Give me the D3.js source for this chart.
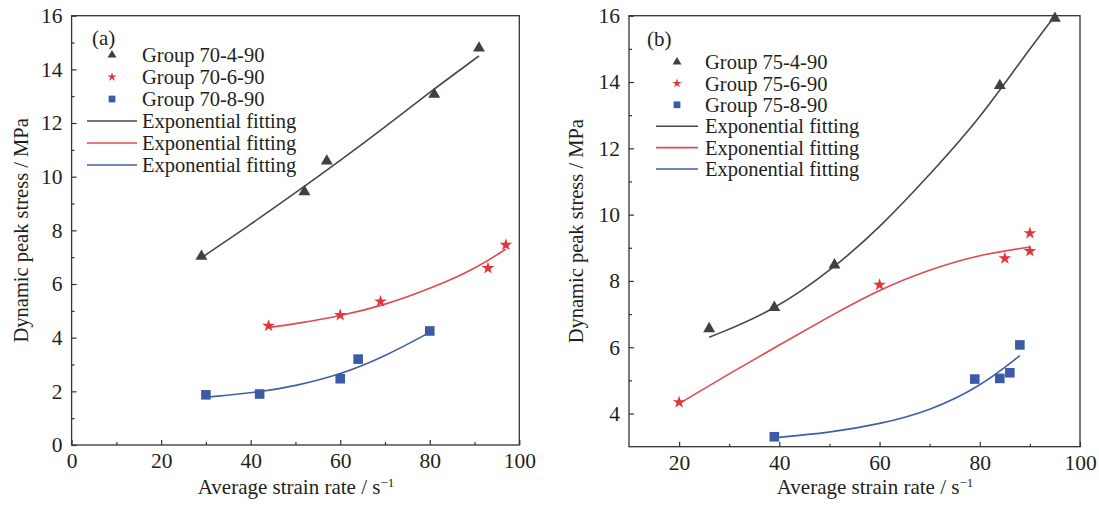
<!DOCTYPE html>
<html>
<head>
<meta charset="utf-8">
<script src="https://cdn.jsdelivr.net/npm/d3@7/dist/d3.min.js"></script>
<style>
  body { margin: 0; background: #fff; }
  svg text { font-family: "Liberation Serif", "Times New Roman", serif; fill: #231f20; }
</style>
</head>
<body>
<div id="chart"></div>
<script>
// ---- panel (a) data ----
const aLegend = ['Group 70-4-90', 'Group 70-6-90', 'Group 70-8-90'];
const a4x = [29, 52, 57, 81, 91];
const a4y = [7.03, 9.44, 10.58, 13.07, 14.79];
const a6x = [44, 60, 69, 93, 97];
const a6y = [4.44, 4.84, 5.35, 6.59, 7.46];
const a8x = [30, 42, 60, 64, 80];
const a8y = [1.87, 1.9, 2.47, 3.2, 4.25];
// fitted curves
const a4FitX = [29, 40, 50, 60, 70, 80, 91];
const a4FitY = [6.98, 8.22, 9.4, 10.6, 11.85, 13.15, 14.5];
const a6FitX = [44, 50, 60, 70, 80, 90, 97];
const a6FitY = [4.38, 4.52, 4.8, 5.22, 5.82, 6.55, 7.3];
const a8FitX = [30, 42, 50, 60, 70, 80];
const a8FitY = [1.78, 1.97, 2.2, 2.62, 3.3, 4.2];

// ---- panel (b) data ----
const bLegend = ['Group 75-4-90', 'Group 75-6-90', 'Group 75-8-90'];
const b4x = [26, 39, 51, 84, 95];
const b4y = [6.56, 7.2, 8.48, 13.89, 15.92];
const b6x = [20, 60, 85, 90, 90];
const b6y = [4.34, 7.88, 8.68, 8.9, 9.44];
const b8x = [39, 79, 84, 86, 88];
const b8y = [3.3, 5.04, 5.06, 5.23, 6.07];
const b4FitX = [26, 39, 51, 60, 70, 80, 88, 95];
const b4FitY = [6.3, 7.1, 8.4, 9.6, 11.2, 12.9, 14.6, 16.0];
const b6FitX = [20, 30, 40, 50, 60, 70, 80, 90];
const b6FitY = [4.3, 5.2, 6.07, 6.93, 7.75, 8.35, 8.8, 9.02];
const b8FitX = [39, 50, 60, 70, 80, 88];
const b8FitY = [3.27, 3.42, 3.68, 4.08, 4.8, 5.75];

const fitLabel = 'Exponential fitting';
const colors = ['#433f3e', '#e2353c', '#3b5ba6'];
const fitColors = ['#4b4646', '#e04a4f', '#3f60aa'];

const svg = d3.select('#chart').append('svg')
  .attr('width', 1099)
  .attr('height', 507);

const zip = (xs, ys) => xs.map((x, i) => [x, ys[i]]);

function drawPanel(cfg) {
  const { left, top, width, height } = cfg;
  const g = svg.append('g').attr('transform', `translate(${left},${top})`);

  const x = d3.scaleLinear().domain(cfg.xDomain).range([0, width]);
  const y = d3.scaleLinear().domain(cfg.yDomain).range([height, 0]);

  // major + minor ticks, pointing inward
  g.append('g').attr('transform', `translate(0,${height})`)
    .call(d3.axisBottom(x).tickValues(cfg.xTicks).tickSize(-5).tickPadding(8).tickFormat(d3.format('d')));
  g.append('g').attr('transform', `translate(0,${height})`)
    .call(d3.axisBottom(x).tickValues(cfg.xMinor).tickSize(-3).tickFormat(''));
  g.append('g')
    .call(d3.axisLeft(y).tickValues(cfg.yTicks).tickSize(-5).tickPadding(9).tickFormat(d3.format('d')));
  g.append('g')
    .call(d3.axisLeft(y).tickValues(cfg.yMinor).tickSize(-3).tickFormat(''));

  g.selectAll('.domain').remove();
  g.selectAll('.tick line').attr('stroke', '#333').attr('stroke-width', 1.2);
  g.selectAll('.tick text').attr('font-size', 21.5).style('font-family', '"Liberation Serif", serif').attr('fill', '#231f20');

  g.append('rect')
    .attr('width', width).attr('height', height)
    .attr('fill', 'none').attr('stroke', '#333').attr('stroke-width', 1.3);

  // fitted curves
  const lineGen = d3.line().x(d => x(d[0])).y(d => y(d[1])).curve(d3.curveBasis);
  cfg.fits.forEach((f, i) => {
    g.append('path')
      .attr('d', lineGen(f))
      .attr('fill', 'none')
      .attr('stroke', fitColors[i])
      .attr('stroke-width', 1.6);
  });

  // scatter points
  const symbols = [d3.symbolTriangle, d3.symbolStar, d3.symbolSquare];
  const sizes = [62, 50, 92];
  cfg.points.forEach((pts, i) => {
    g.selectAll(null).data(pts).join('path')
      .attr('transform', d => `translate(${x(d[0])},${y(d[1])})`)
      .attr('d', d3.symbol(symbols[i], sizes[i]))
      .attr('fill', colors[i]);
  });

  // panel label
  svg.append('text')
    .attr('x', cfg.tagX).attr('y', cfg.tagY)
    .attr('font-size', 21)
    .text(cfg.tag);

  // legend
  const lg = svg.append('g');
  const legSizes = [34, 26, 46];
  cfg.legend.forEach((name, i) => {
    const ry = cfg.legY + i * cfg.legStep;
    lg.append('path')
      .attr('transform', `translate(${cfg.legSymX},${ry})`)
      .attr('d', d3.symbol(symbols[i], legSizes[i]))
      .attr('fill', colors[i]);
    lg.append('text').attr('x', cfg.legTextX).attr('y', ry).attr('dy', '0.35em')
      .attr('font-size', 20.5).text(name);
  });
  fitColors.forEach((c, i) => {
    const ry = cfg.legY + (i + 3) * cfg.legStep;
    lg.append('line')
      .attr('x1', cfg.legLineX[0]).attr('x2', cfg.legLineX[1])
      .attr('y1', ry).attr('y2', ry)
      .attr('stroke', c).attr('stroke-width', 1.6);
    lg.append('text').attr('x', cfg.legTextX).attr('y', ry).attr('dy', '0.35em')
      .attr('font-size', 20.5).text(fitLabel);
  });

  // axis titles
  const xt = svg.append('text')
    .attr('x', cfg.xTitleX).attr('y', 494)
    .attr('text-anchor', 'middle')
    .attr('font-size', 21)
    .text('Average strain rate / s');
  xt.append('tspan').attr('baseline-shift', 'super').attr('font-size', 13).text('\u22121');

  svg.append('text')
    .attr('transform', `translate(${cfg.yTitleX},${top + height / 2}) rotate(-90)`)
    .attr('text-anchor', 'middle')
    .attr('font-size', 20.5)
    .text('Dynamic peak stress / MPa');
}

drawPanel({
  left: 71.6, top: 15.7, width: 447.7, height: 429.3,
  xDomain: [0, 100], yDomain: [0, 16],
  xTicks: [0, 20, 40, 60, 80, 100], xMinor: [10, 30, 50, 70, 90],
  yTicks: [0, 2, 4, 6, 8, 10, 12, 14, 16], yMinor: [1, 3, 5, 7, 9, 11, 13, 15],
  fits: [zip(a4FitX, a4FitY), zip(a6FitX, a6FitY), zip(a8FitX, a8FitY)],
  points: [zip(a4x, a4y), zip(a6x, a6y), zip(a8x, a8y)],
  tag: '(a)', tagX: 92, tagY: 45,
  legend: aLegend, legY: 55, legStep: 22, legSymX: 112, legTextX: 142, legLineX: [87, 137],
  xTitleX: 296, yTitleX: 28
});

drawPanel({
  left: 629, top: 15.7, width: 451, height: 431,
  xDomain: [10, 100], yDomain: [3, 16],
  xTicks: [20, 40, 60, 80, 100], xMinor: [30, 50, 70, 90],
  yTicks: [4, 6, 8, 10, 12, 14, 16], yMinor: [5, 7, 9, 11, 13, 15],
  fits: [zip(b4FitX, b4FitY), zip(b6FitX, b6FitY), zip(b8FitX, b8FitY)],
  points: [zip(b4x, b4y), zip(b6x, b6y), zip(b8x, b8y)],
  tag: '(b)', tagX: 647, tagY: 46,
  legend: bLegend, legY: 62, legStep: 21.4, legSymX: 677, legTextX: 705, legLineX: [656, 698],
  xTitleX: 875, yTitleX: 583
});
</script>
</body>
</html>
